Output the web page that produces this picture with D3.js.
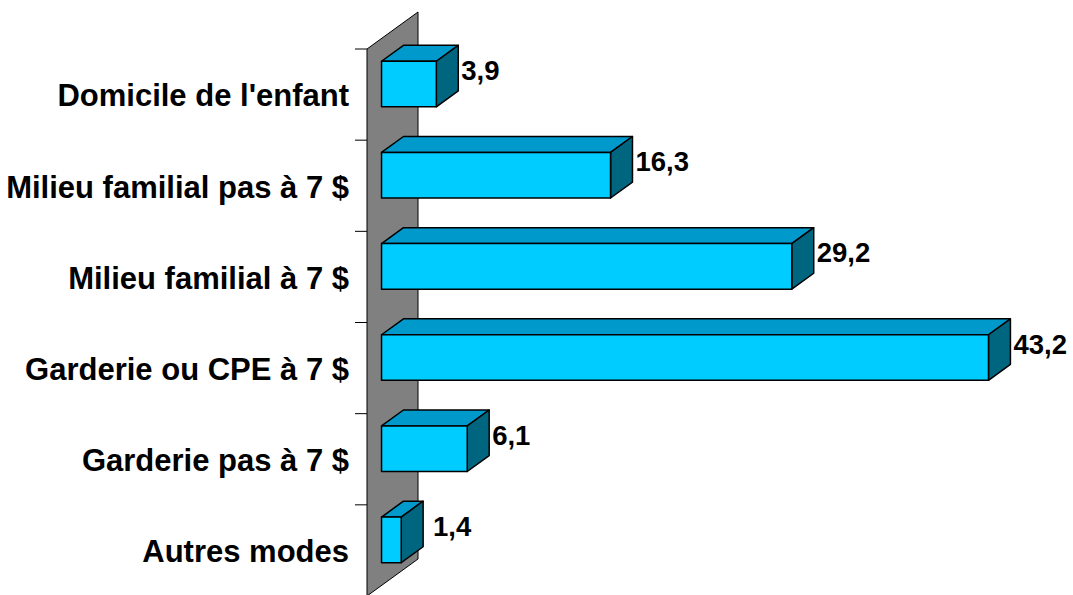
<!DOCTYPE html>
<html>
<head>
<meta charset="utf-8">
<script src="https://cdn.jsdelivr.net/npm/d3@7"></script>
<style>
  body { margin: 0; background: #fff; }
  text { font-family: "Liberation Sans", Arial, sans-serif; font-weight: bold; fill: #000; }
</style>
</head>
<body>
<script>
const categories = ["Domicile de l'enfant", "Milieu familial pas à 7 $", "Milieu familial à 7 $",
    "Garderie ou CPE à 7 $", "Garderie pas à 7 $", "Autres modes"];
const values = [3.9, 16.3, 29.2, 43.2, 6.1, 1.4];
const valueLabels = ["3,9", "16,3", "29,2", "43,2", "6,1", "1,4"];

const width = 1073, height = 595;
const svg = d3.select("body").append("svg")
    .attr("width", width)
    .attr("height", height);

// front plane of the plot
const x = d3.scaleLinear().domain([0, 50]).range([367, 1069.5]);
const y = d3.scaleBand().domain(categories).range([49, 596])
    .paddingInner(0.5).paddingOuter(0.25);

// depth vector of the 3d box
const depth = { dx: 51, dy: -37 };
const barStart = 0.285, barDepth = 0.43;  // fractions of depth

// back wall
const x0 = x(0);
svg.append("polygon")
    .attr("points", [[x0, 49], [x0 + depth.dx, 49 + depth.dy],
        [x0 + depth.dx, 596 + depth.dy], [x0, 596]].join(" "))
    .attr("fill", "#808080")
    .attr("stroke", "#000")
    .attr("stroke-width", 1);

// tick marks between categories
const step = y.step();
d3.range(categories.length + 1).forEach(i => {
    svg.append("line")
        .attr("x1", x0 - 12).attr("x2", x0)
        .attr("y1", 49 + i * step).attr("y2", 49 + i * step)
        .attr("stroke", "#000");
});

// category labels
svg.selectAll(".cat").data(categories).join("text")
    .attr("class", "cat")
    .attr("x", 349)
    .attr("y", d => y(d) + y.bandwidth() / 2)
    .attr("dy", "0.38em")
    .attr("text-anchor", "end")
    .attr("font-size", 31)
    .text(d => d);

// bars
const ox = depth.dx * barStart, oy = depth.dy * barStart;
const bx = depth.dx * barDepth, by = depth.dy * barDepth;
categories.forEach((c, i) => {
    const l = x(0) + ox, r = x(values[i]) + ox;
    const t = y(c) + oy, b = y(c) + y.bandwidth() + oy;
    const g = svg.append("g")
        .attr("stroke", "#000")
        .attr("stroke-width", 1.5)
        .attr("stroke-linejoin", "round");
    g.append("polygon")  // top
        .attr("points", [[l, t], [l + bx, t + by], [r + bx, t + by], [r, t]].join(" "))
        .attr("fill", "#0099CC");
    g.append("polygon")  // side
        .attr("points", [[r, t], [r + bx, t + by], [r + bx, b + by], [r, b]].join(" "))
        .attr("fill", "#006680");
    g.append("rect")     // front
        .attr("x", l).attr("y", t)
        .attr("width", r - l).attr("height", b - t)
        .attr("fill", "#00CCFF");
    svg.append("text")
        .attr("x", Math.max(r + bx + 3, 433))
        .attr("y", t + 9)
        .attr("dy", "0.36em")
        .attr("font-size", 27.5)
        .text(valueLabels[i]);
});
</script>
</body>
</html>
